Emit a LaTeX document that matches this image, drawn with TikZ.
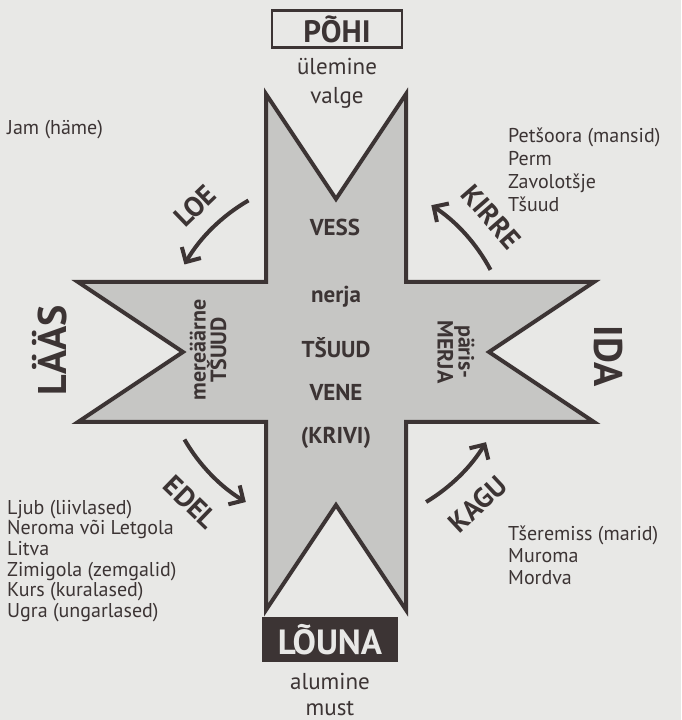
\documentclass[tikz,border=0pt]{standalone}
\usepackage{fontspec}
\setmainfont{PT Sans}
\usetikzlibrary{positioning, calc, arrows.meta}

\definecolor{ink}{RGB}{60,52,52}
\definecolor{paper}{RGB}{232,232,230}
\definecolor{starfill}{RGB}{198,198,196}

\tikzset{
  side/.style={anchor=west, align=left, text=ink, inner sep=0pt, font=\fontsize{20}{20.7}\selectfont},
  wind/.style={text=ink, inner sep=0pt, font=\bfseries\fontsize{28}{28}\selectfont},
  quarter/.style={text=ink, inner sep=0pt, font=\bfseries\fontsize{40}{40}\selectfont},
  folk/.style={text=ink, inner sep=0pt, align=center, font=\bfseries\fontsize{23}{23}\selectfont},
  turn/.style={draw=ink, line width=4pt, -{Straight Barb[length=11pt, width=22pt]}},
}

\begin{document}
\begin{tikzpicture}[x=1pt, y=1pt]
        % the page
        \fill[paper] (0,0) rectangle (681,720);
        \useasboundingbox (0,0) rectangle (681,720);

        \coordinate (C) at (336,368);

        % the star
        \begin{scope}[shift={(C)}]
            \draw[draw=ink, fill=starfill, line width=4pt] (-70,258) -- (0,153) -- (70,258) -- (70,70)
                -- (258,70) -- (153,0) -- (258,-70) -- (70,-70)
                -- (70,-258) -- (0,-153) -- (-70,-258) -- (-70,-70)
                -- (-258,-70) -- (-153,0) -- (-258,70) -- (-70,70) -- cycle;
        \end{scope}

        % north and south
        \node[draw=ink, line width=2.5pt, minimum width=130pt, minimum height=37pt, inner sep=0pt,
              text=ink, font=\bfseries\fontsize{31}{31}\selectfont] (pohi) at (337,691) {PÕHI};
        \node[text=ink, align=center, inner sep=0pt, font=\fontsize{23}{29}\selectfont] (ulemine) at (337,637) {ülemine\\valge};
        \node[fill=ink, minimum width=136pt, minimum height=45pt, inner sep=0pt,
              text=paper, font=\bfseries\fontsize{35}{35}\selectfont] (louna) at (330,80) {LÕUNA};
        \node[text=ink, align=center, inner sep=0pt, font=\fontsize{23}{26}\selectfont] (alumine) at (330,26) {alumine\\must};

        % west and east
        \node[quarter, rotate=90] (laas) at (50,370) {LÄÄS};
        \node[quarter, rotate=-90] (ida) at (608,364) {IDA};

        % inside the star
        \node[folk] (vess) at (335,493) {VESS};
        \node[folk] (nerja) at (336,423) {nerja};
        \node[folk] (tsuud) at (336,372) {TŠUUD};
        \node[folk] (vene) at (336,328) {VENE};
        \node[folk] (krivi) at (336,282) {(KRIVI)};
        \node[folk, rotate=90, font=\bfseries\fontsize{22}{19}\selectfont] (meri) at (208,370) {mereäärne\\TŠUUD};
        \node[folk, rotate=-90, font=\bfseries\fontsize{22}{19}\selectfont] (paris) at (456,368) {päris-\\MERJA};

        % arrow LOE
        \coordinate (loeA) at ($(C)+(120:175pt)$);
        \draw[turn] (loeA) arc[start angle=120, end angle=150, radius=175pt];
        \node[wind, rotate=44] (loe) at ($(C)+(134:203pt)$) {LOE};

        % arrow KIRRE
        \coordinate (kirreA) at ($(C)+(28:175pt)$);
        \draw[turn] (kirreA) arc[start angle=28, end angle=57, radius=175pt];
        \node[wind, rotate=-49] (kirre) at ($(C)+(41:206pt)$) {KIRRE};

        % arrow EDEL
        \coordinate (edelA) at ($(C)+(210:175pt)$);
        \draw[turn] (edelA) arc[start angle=210, end angle=239, radius=175pt];
        \node[wind, rotate=-44] (edel) at ($(C)+(226:209pt)$) {EDEL};

        % arrow KAGU
        \coordinate (kaguA) at ($(C)+(301:175pt)$);
        \draw[turn] (kaguA) arc[start angle=301, end angle=329, radius=175pt];
        \node[wind, rotate=43] (kagu) at ($(C)+(313:208pt)$) {KAGU};

        % the peoples
        \node[side] (jam) at (7,590) {Jam (häme)};
        \node[side, font=\fontsize{20}{23}\selectfont] (petsoora) at (508,550) {Petšoora (mansid)\\Perm\\Zavolotšje\\Tšuud};
        \node[side] (ljub) at (7,159) {Ljub (liivlased)\\Neroma või Letgola\\Litva\\Zimigola (zemgalid)\\Kurs (kuralased)\\Ugra (ungarlased)};
        \node[side, font=\fontsize{20}{22}\selectfont] (tseremiss) at (508,165) {Tšeremiss (marid)\\Muroma\\Mordva};
    \end{tikzpicture}
\end{document}
